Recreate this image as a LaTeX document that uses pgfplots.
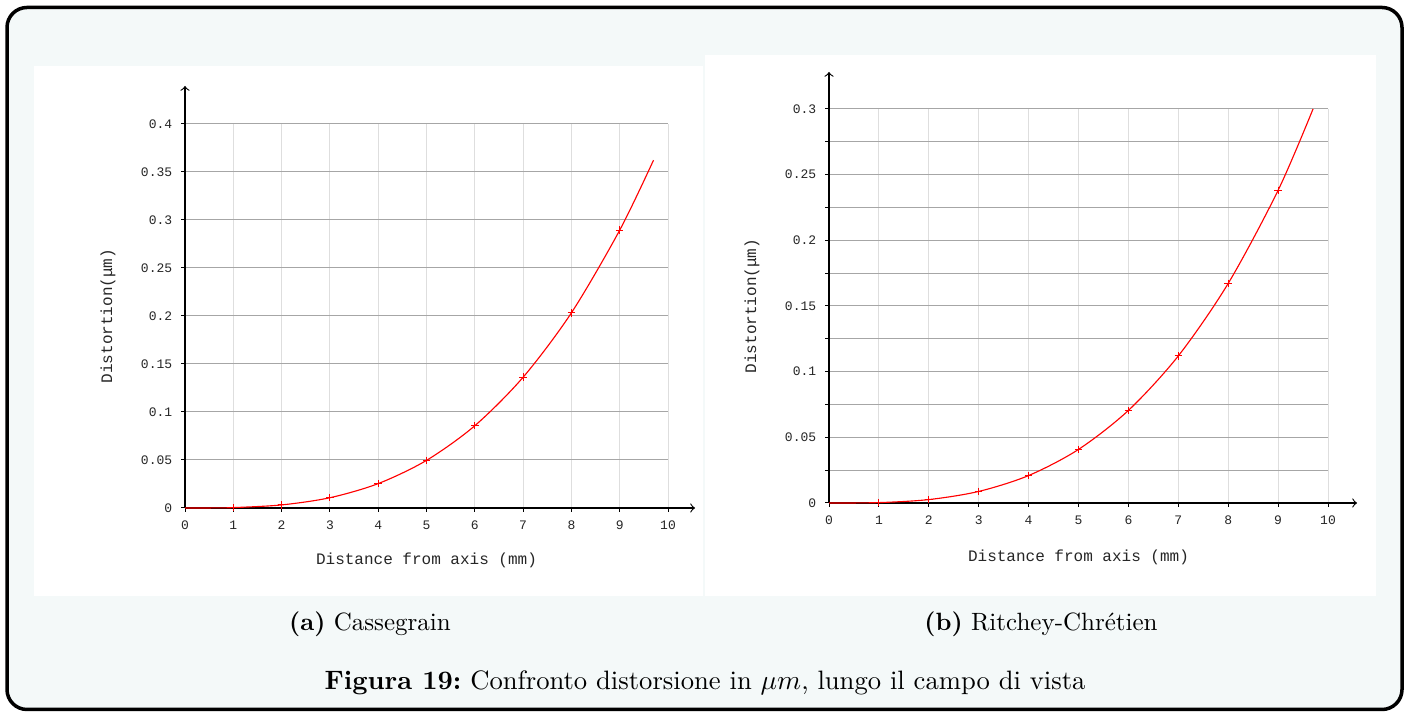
\documentclass[border=0pt]{standalone}
\usepackage{pgfplots}
\pgfplotsset{compat=1.18}
\usepackage{fontspec}
\setmonofont{Liberation Mono}
\definecolor{bgc}{RGB}{244,249,249}

\pgfplotsset{
  plotstyle/.style={
    scale only axis,
    axis lines=left,
    axis line style={-, line width=0.45pt, black},
    tick align=outside,
    major tick length=1.6pt,
    minor tick length=1.6pt,
    tick style={black, line width=0.4pt},
    xmin=0, xmax=10, ymin=0,
    xtick={0,1,...,10},
    xticklabels={0,1,2,3,4,5,6,7,8,9,10},
    xmajorgrids, ymajorgrids,
    every axis x grid/.style={black!13, line width=0.4pt},
    every axis y grid/.style={black!35, line width=0.4pt},
    ticklabel style={font=\ttfamily\fontsize{5.2}{6}\selectfont, text=black!85},
    xlabel style={font=\ttfamily\fontsize{6.4}{8}\selectfont, text=black!85},
    ylabel style={font=\ttfamily\fontsize{6.4}{8}\selectfont, text=black!85},
    clip=false,
  }
}

\begin{document}
\begin{tikzpicture}
\useasboundingbox (0,0) rectangle (564pt,285.2pt);
\draw[line width=1.4pt, rounded corners=8pt, fill=bgc] (2.8pt,1.4pt) rectangle (560.8pt,282.2pt);
\fill[white] (13.6pt,46.8pt) rectangle (281.2pt,258.8pt);
\fill[white] (282pt,46.8pt) rectangle (550.4pt,263.2pt);

% Left: Cassegrain
\begin{axis}[plotstyle,
  at={(74pt,82pt)}, anchor=south west,
  width=193.2pt, height=153.6pt,
  ymax=0.4,
  ytick={0,0.05,0.1,0.15,0.2,0.25,0.3,0.35,0.4},
  yticklabels={0,0.05,0.1,0.15,0.2,0.25,0.3,0.35,0.4},
  x axis line style={->, shorten >=-10.8pt},
  y axis line style={->, shorten >=-15.2pt},
  xlabel={Distance from axis (mm)},
  ylabel={Distortion(μm)},
  xlabel style={at={(axis description cs:0.5,0)}, anchor=center, yshift=-20.8pt},
  ylabel style={at={(axis description cs:0,0.5)}, anchor=center, rotate=0, yshift=30.8pt},
]
\addplot[red, line width=0.45pt, smooth, tension=0.5] coordinates {
(0,0) (0.5,0.00005) (1,0.0004) (2,0.0032) (3,0.0107) (4,0.0254) (5,0.0496)
(6,0.0857) (7,0.1362) (8,0.2033) (9,0.2894) (9.7,0.3623)};
\addplot[red, only marks, mark=+, mark size=1.5pt, line width=0.4pt] coordinates {
(1,0.0004) (2,0.0032) (3,0.0107) (4,0.0254) (5,0.0496)
(6,0.0857) (7,0.1362) (8,0.2033) (9,0.2894)};
\end{axis}

% Right: Ritchey-Chretien
\begin{axis}[plotstyle,
  at={(331.6pt,84pt)}, anchor=south west,
  width=199.6pt, height=157.6pt,
  ymax=0.3,
  ytick={0,0.05,0.1,0.15,0.2,0.25,0.3},
  yticklabels={0,0.05,0.1,0.15,0.2,0.25,0.3},
  minor y tick num=1,
  yminorgrids,
  minor grid style={black!35, line width=0.4pt},
  x axis line style={->, shorten >=-11.6pt},
  y axis line style={->, shorten >=-14.8pt},
  xlabel={Distance from axis (mm)},
  ylabel={Distortion(μm)},
  xlabel style={at={(axis description cs:0.5,0)}, anchor=center, yshift=-21.6pt},
  ylabel style={at={(axis description cs:0,0.5)}, anchor=center, rotate=0, yshift=30.8pt},
]
\addplot[red, line width=0.45pt, smooth, tension=0.5] coordinates {
(0,0) (1,0.0003) (2,0.0026) (3,0.0088) (4,0.0209) (5,0.0408)
(6,0.0705) (7,0.1120) (8,0.1672) (9,0.2381) (9.7,0.3)};
\addplot[red, only marks, mark=+, mark size=1.5pt, line width=0.4pt] coordinates {
(1,0.0003) (2,0.0026) (3,0.0088) (4,0.0209) (5,0.0408)
(6,0.0705) (7,0.1120) (8,0.1672) (9,0.2381)};
\end{axis}

\node at (148pt,35.6pt) {\textbf{(a)}~Cassegrain};
\node at (416.4pt,35.6pt) {\textbf{(b)}~Ritchey-Chrétien};
\node[font=\fontsize{10.65}{12.8}\selectfont] at (282pt,12pt) {\textbf{Figura 19:}~Confronto distorsione in $\mu m$, lungo il campo di vista};
\end{tikzpicture}
\end{document}
